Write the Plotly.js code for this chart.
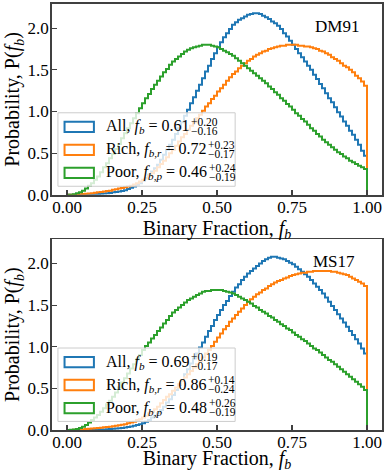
<!DOCTYPE html>
<html>
<head>
<meta charset="utf-8">
<script src="https://cdn.plot.ly/plotly-3.0.1.min.js"></script>
<style>html,body{margin:0;padding:0;background:#fff;}#chart{width:387px;height:472px;}</style>
</head>
<body>
<div id="chart"></div>
<script>
// ---------- data (100 bins of width 0.01 on [0,1]) ----------
const binStart = 0;
const binWidth = 0.01;

const dm91All = [
0,0,0,0,0, 0.002,0.003,0.004,0.005,0.007,
0.01,0.012,0.015,0.018,0.022, 0.03,0.035,0.04,0.047,0.055,
0.07,0.085,0.10,0.12,0.14, 0.17,0.20,0.24,0.28,0.32,
0.36,0.42,0.48,0.54,0.60, 0.66,0.73,0.80,0.87,0.95,
1.02,1.10,1.17,1.25,1.32, 1.40,1.48,1.55,1.63,1.70,
1.77,1.83,1.89,1.94,1.99, 2.04,2.07,2.10,2.12,2.14,
2.16,2.17,2.18,2.18,2.17, 2.15,2.13,2.11,2.08,2.06,
2.03,1.99,1.94,1.90,1.85, 1.80,1.75,1.70,1.65,1.60,
1.55,1.50,1.44,1.39,1.33, 1.28,1.22,1.16,1.11,1.05,
0.99,0.94,0.88,0.83,0.77, 0.72,0.66,0.60,0.53,0.47];

const dm91Rich = [
0,0.001,0.002,0.004,0.006, 0.01,0.013,0.016,0.02,0.025,
0.03,0.035,0.04,0.045,0.05, 0.06,0.067,0.075,0.083,0.09,
0.10,0.11,0.125,0.14,0.16, 0.18,0.20,0.23,0.26,0.29,
0.33,0.37,0.41,0.45,0.50, 0.54,0.59,0.64,0.69,0.73,
0.78,0.83,0.87,0.92,0.96, 1.01,1.06,1.10,1.15,1.19,
1.24,1.28,1.32,1.37,1.41, 1.45,1.48,1.52,1.55,1.58,
1.61,1.63,1.66,1.68,1.70, 1.72,1.73,1.75,1.76,1.77,
1.78,1.79,1.79,1.80,1.80, 1.80,1.80,1.79,1.79,1.78,
1.78,1.77,1.76,1.75,1.73, 1.72,1.70,1.68,1.65,1.63,
1.61,1.58,1.55,1.53,1.50, 1.47,1.43,1.40,1.36,1.31];

const dm91Poor = [
0,0.002,0.008,0.018,0.032, 0.05,0.075,0.11,0.14,0.18,
0.22,0.27,0.33,0.38,0.44, 0.49,0.55,0.61,0.68,0.74,
0.80,0.86,0.92,0.98,1.04, 1.10,1.16,1.21,1.27,1.32,
1.37,1.42,1.47,1.51,1.56, 1.60,1.63,1.66,1.69,1.72,
1.74,1.76,1.77,1.78,1.79, 1.80,1.80,1.80,1.79,1.78,
1.77,1.75,1.73,1.71,1.69, 1.67,1.64,1.61,1.58,1.55,
1.52,1.49,1.46,1.43,1.40, 1.37,1.34,1.30,1.27,1.23,
1.20,1.16,1.13,1.09,1.06, 1.02,0.98,0.95,0.91,0.88,
0.84,0.80,0.77,0.73,0.70, 0.66,0.63,0.60,0.57,0.54,
0.51,0.49,0.46,0.44,0.41, 0.39,0.37,0.35,0.33,0.31];

const ms17All = [
0,0,0,0,0, 0.001,0.001,0.002,0.003,0.004,
0.005,0.006,0.007,0.009,0.012, 0.015,0.018,0.021,0.025,0.03,
0.035,0.042,0.05,0.06,0.07, 0.08,0.10,0.12,0.15,0.17,
0.20,0.24,0.28,0.33,0.37, 0.42,0.48,0.54,0.60,0.67,
0.73,0.80,0.86,0.92,0.99, 1.05,1.12,1.19,1.25,1.32,
1.38,1.44,1.50,1.55,1.61, 1.66,1.71,1.75,1.80,1.84,
1.88,1.91,1.94,1.97,2.00, 2.03,2.05,2.07,2.08,2.08,
2.07,2.06,2.05,2.03,2.01, 1.99,1.96,1.93,1.90,1.87,
1.84,1.80,1.76,1.72,1.68, 1.64,1.59,1.54,1.49,1.44,
1.39,1.34,1.29,1.24,1.19, 1.14,1.09,1.04,0.98,0.92];

const ms17Rich = [
0,0.001,0.002,0.004,0.006, 0.01,0.012,0.015,0.017,0.02,
0.025,0.028,0.032,0.036,0.04, 0.045,0.05,0.056,0.063,0.07,
0.08,0.09,0.10,0.12,0.13, 0.15,0.17,0.20,0.22,0.25,
0.28,0.32,0.36,0.40,0.43, 0.47,0.51,0.55,0.59,0.63,
0.67,0.71,0.75,0.79,0.83, 0.87,0.92,0.96,1.01,1.06,
1.11,1.16,1.21,1.25,1.30, 1.34,1.38,1.42,1.46,1.50,
1.54,1.57,1.60,1.63,1.65, 1.68,1.70,1.73,1.75,1.77,
1.79,1.80,1.82,1.83,1.85, 1.86,1.87,1.88,1.89,1.89,
1.90,1.90,1.91,1.91,1.91, 1.91,1.91,1.91,1.90,1.90,
1.89,1.88,1.87,1.86,1.84, 1.82,1.80,1.78,1.76,1.73];

const ms17Poor = [
0,0.002,0.006,0.013,0.025, 0.04,0.06,0.09,0.12,0.15,
0.18,0.22,0.26,0.31,0.35, 0.40,0.45,0.51,0.57,0.62,
0.68,0.74,0.79,0.85,0.90, 0.96,1.01,1.05,1.10,1.14,
1.19,1.23,1.28,1.32,1.37, 1.41,1.44,1.47,1.50,1.53,
1.56,1.58,1.60,1.62,1.64, 1.66,1.67,1.67,1.68,1.68,
1.68,1.68,1.67,1.66,1.65, 1.64,1.62,1.60,1.58,1.56,
1.54,1.52,1.49,1.47,1.44, 1.42,1.40,1.37,1.35,1.32,
1.30,1.27,1.25,1.22,1.20, 1.17,1.14,1.12,1.09,1.07,
1.04,1.01,0.98,0.96,0.93, 0.90,0.87,0.84,0.82,0.79,
0.76,0.73,0.70,0.67,0.64, 0.61,0.58,0.55,0.52,0.48];

// legend text pieces
const seriesNames = ["All", "Rich", "Poor"];
const seriesSymbols = ["<i>f</i><sub><i>b</i></sub>", "<i>f</i><sub><i>b</i>,<i>r</i></sub>", "<i>f</i><sub><i>b</i>,<i>p</i></sub>"];
const dm91Median = ["0.61", "0.72", "0.46"];
const dm91Upper  = ["+0.20", "+0.23", "+0.24"];
const dm91Lower  = ["\u22120.16", "\u22120.17", "\u22120.19"];
const ms17Median = ["0.69", "0.86", "0.48"];
const ms17Upper  = ["+0.19", "+0.14", "+0.26"];
const ms17Lower  = ["\u22120.17", "\u22120.24", "\u22120.19"];
const panelLabels = ["DM91", "MS17"];

const xTicks = [0, 0.25, 0.5, 0.75, 1.0];
const yTicks = [0, 0.5, 1.0, 1.5, 2.0];
const colors = ["#1f77b4", "#ff7f0e", "#2ca02c"];

// ---------- build ----------
function stepTrace(vals, color, xa, ya, name) {
  const x = [binStart], y = [0];
  for (let i = 0; i < vals.length; i++) { x.push(binStart + i * binWidth); y.push(vals[i]); }
  const end = binStart + vals.length * binWidth;
  x.push(end); y.push(vals[vals.length - 1]);
  x.push(end); y.push(0);
  return {type: "scatter", mode: "lines", x: x, y: y, name: name, xaxis: xa, yaxis: ya,
          line: {shape: "hv", color: color, width: 2}, showlegend: false, hoverinfo: "skip"};
}

const traces = [
  stepTrace(dm91All, colors[0], "x", "y", "All"),
  stepTrace(dm91Rich, colors[1], "x", "y", "Rich"),
  stepTrace(dm91Poor, colors[2], "x", "y", "Poor"),
  stepTrace(ms17All, colors[0], "x2", "y2", "All"),
  stepTrace(ms17Rich, colors[1], "x2", "y2", "Rich"),
  stepTrace(ms17Poor, colors[2], "x2", "y2", "Poor")
];

const FONT = "Liberation Serif, Times New Roman, serif";
const frame = "#404040";
const ML = 51.5, MR = 5, MT = 4, MB = 41.7, W = 387, H = 472;

function xax(anchor) {
  return {anchor: anchor, range: [-0.05, 1.05], tickvals: xTicks, tickformat: ".2f",
    ticks: "inside", ticklen: 5, tickwidth: 1.2, tickcolor: frame, ticklabelstandoff: -4,
    showline: true, mirror: true, linecolor: frame, linewidth: 1.8,
    showgrid: false, zeroline: false,
    tickfont: {family: FONT, size: 17, color: "#000"},
    title: {text: "Binary Fraction, <i>f</i><sub><i>b</i></sub>", font: {family: FONT, size: 20, color: "#000"}, standoff: 0}};
}
function yax(anchor, domain) {
  return {anchor: anchor, domain: domain, range: [0, 2.29], tickvals: yTicks, tickformat: ".1f",
    ticks: "inside", ticklen: 5, tickwidth: 1.2, tickcolor: frame, ticklabelstandoff: -2,
    showline: true, mirror: true, linecolor: frame, linewidth: 1.8,
    showgrid: false, zeroline: false,
    tickfont: {family: FONT, size: 17, color: "#000"},
    title: {text: "Probability, P(<i>f</i><sub><i>b</i></sub>)", font: {family: FONT, size: 20, color: "#000"}, standoff: 2}};
}

const shapes = [];
const annotations = [];
const rowY = [0.356, 0.236, 0.115];

function addLegend(xr, yr, medians, uppers, lowers) {
  shapes.push({type: "rect", xref: xr, yref: yr, x0: 0.018, x1: 0.555, y0: 0.045, y1: 0.43,
    line: {color: "#cccccc", width: 1}, fillcolor: "rgba(255,255,255,0.8)", layer: "above"});
  for (let k = 0; k < 3; k++) {
    shapes.push({type: "rect", xref: xr, yref: yr, x0: 0.038, x1: 0.127, y0: rowY[k] - 0.027, y1: rowY[k] + 0.027,
      line: {color: colors[k], width: 2}, fillcolor: "rgba(0,0,0,0)", layer: "above"});
    annotations.push({xref: xr, yref: yr, x: 0.162, y: rowY[k], xanchor: "left", yanchor: "middle",
      text: seriesNames[k] + ", " + seriesSymbols[k] + " = " + medians[k], showarrow: false, borderpad: 0,
      font: {family: FONT, size: 16, color: "#000"}});
    annotations.push({xref: xr, yref: yr, x: 0.40, y: rowY[k] + 0.026, xanchor: "left", yanchor: "middle",
      text: uppers[k], showarrow: false, borderpad: 0, font: {family: FONT, size: 11.5, color: "#000"}});
    annotations.push({xref: xr, yref: yr, x: 0.40, y: rowY[k] - 0.022, xanchor: "left", yanchor: "middle",
      text: lowers[k], showarrow: false, borderpad: 0, font: {family: FONT, size: 11.5, color: "#000"}});
  }
}
addLegend("x domain", "y domain", dm91Median, dm91Upper, dm91Lower);
addLegend("x2 domain", "y2 domain", ms17Median, ms17Upper, ms17Lower);

annotations.push({xref: "x domain", yref: "y domain", x: 0.865, y: 0.88, xanchor: "center", yanchor: "middle",
  text: panelLabels[0], showarrow: false, font: {family: FONT, size: 17, color: "#000"}});
annotations.push({xref: "x2 domain", yref: "y2 domain", x: 0.855, y: 0.882, xanchor: "center", yanchor: "middle",
  text: panelLabels[1], showarrow: false, font: {family: FONT, size: 17, color: "#000"}});

const layout = {
  width: W, height: H,
  margin: {l: ML, r: MR, t: MT, b: MB},
  paper_bgcolor: "#fff", plot_bgcolor: "#fff",
  showlegend: false,
  xaxis: xax("y"), yaxis: yax("x", [0.552, 1]),
  xaxis2: xax("y2"), yaxis2: yax("x2", [0, 0.4476]),
  shapes: shapes, annotations: annotations
};

Plotly.newPlot("chart", traces, layout, {staticPlot: true, displayModeBar: false}).then(function (gd) {
  // place the stacked super/subscripts right after each legend label
  const plotW = W - ML - MR;
  const root = gd.getBoundingClientRect();
  const upd = {};
  for (let base = 0; base < 18; base += 9) {
    for (let k = 0; k < 3; k++) {
      const mi = base + 3 * k;
      const el = gd.querySelector('.annotation[data-index="' + mi + '"] .annotation-text');
      if (!el) continue;
      const r = el.getBoundingClientRect();
      const xd = (r.right - root.left + 0.5 - ML) / plotW;
      upd["annotations[" + (mi + 1) + "].x"] = xd;
      upd["annotations[" + (mi + 2) + "].x"] = xd;
    }
  }
  return Plotly.relayout(gd, upd);
});
</script>
</body>
</html>
